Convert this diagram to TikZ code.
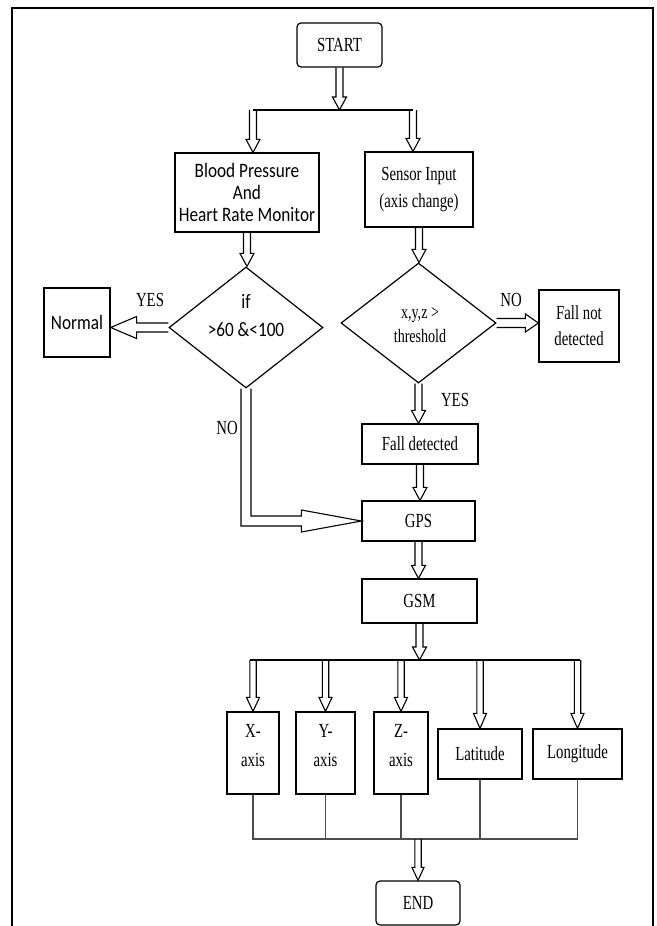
\documentclass[tikz,border=0pt]{standalone}
\usepackage{fontspec}
\setmainfont{Liberation Serif}[FakeStretch=0.74]
\newfontfamily\calfont{Carlito}[FakeStretch=0.84]
\usetikzlibrary{calc,shapes.geometric}
% vertical (downward) hollow arrow: #1 from, #2 to, #3 shaft half width, #4 head half width, #5 head length
\newcommand{\varr}[5]{%
  \draw[arrline] let \p1=#1, \p2=#2 in
   (\x1-#3pt,\y1) -- (\x1-#3pt,\y2+#5pt) -- (\x1-#4pt,\y2+#5pt) -- (\x1,\y2)
   -- (\x1+#4pt,\y2+#5pt) -- (\x1+#3pt,\y2+#5pt) -- (\x1+#3pt,\y1);}
% rightward hollow arrow
\newcommand{\rarr}[5]{%
  \draw[arrline] let \p1=#1, \p2=#2 in
   (\x1,\y1+#3pt) -- (\x2-#5pt,\y1+#3pt) -- (\x2-#5pt,\y1+#4pt) -- (\x2,\y1)
   -- (\x2-#5pt,\y1-#4pt) -- (\x2-#5pt,\y1-#3pt) -- (\x1,\y1-#3pt);}
% leftward hollow arrow
\newcommand{\larr}[5]{%
  \draw[arrline] let \p1=#1, \p2=#2 in
   (\x1,\y1+#3pt) -- (\x2+#5pt,\y1+#3pt) -- (\x2+#5pt,\y1+#4pt) -- (\x2,\y1)
   -- (\x2+#5pt,\y1-#4pt) -- (\x2+#5pt,\y1-#3pt) -- (\x1,\y1-#3pt);}
\begin{document}
\begin{tikzpicture}[x=1pt,y=-1pt,
  box/.style={draw=black, line width=1.2pt, fill=white, inner sep=0pt, align=center},
  rbox/.style={box, rounded corners=4pt},
  dia/.style={draw=black, line width=1.2pt, diamond, inner sep=0pt},
  tnr/.style={inner sep=0pt, align=center, font=\fontsize{20}{27}\selectfont},
  cal/.style={inner sep=0pt, align=center, font=\calfont\fontsize{20.5}{22}\selectfont},
  arrline/.style={draw=black, line width=1.1pt, line join=miter},
  thinline/.style={draw=black!70, line width=1.1pt},
  frameline/.style={draw=black, line width=1.8pt}]
\useasboundingbox (0,0) rectangle (656,926);
\fill[white] (0,0) rectangle (656,926);
% frame
\draw[frameline] (12,926) -- (12,8) -- (653,8) -- (653,926);

% nodes
\node[rbox, minimum width=85pt, minimum height=44pt, tnr] (start) at (339.5,45) {START};
\node[box, minimum width=144pt, minimum height=79pt, cal] (bp) at (247,192.5) {Blood Pressure\\And\\Heart Rate Monitor};
\node[box, minimum width=108pt, minimum height=75pt, tnr] (si) at (419,189.5) {Sensor Input\\(axis change)};
\node[dia, minimum width=154pt, minimum height=121pt] (dl) at (246,327.5) {};
\node[cal, font=\calfont\fontsize{20.5}{28}\selectfont] (dltext) at (246,316) {if\\>60 \&<100};
\node[dia, minimum width=155pt, minimum height=120pt] (dr) at (418.5,323) {};
\node[tnr, font=\fontsize{19}{24}\selectfont] (drtext) at (420,325) {x,y,z >\\threshold};
\node[box, minimum width=66pt, minimum height=69pt, cal] (nm) at (77,322.5) {Normal};
\node[box, minimum width=80pt, minimum height=72pt, tnr, font=\fontsize{20}{26}\selectfont] (fnd) at (579,326) {Fall not\\detected};
\node[box, minimum width=116pt, minimum height=40pt, tnr] (fd) at (420,444) {Fall detected};
\node[box, minimum width=113pt, minimum height=40pt, tnr] (gps) at (418.5,521) {GPS};
\node[box, minimum width=115pt, minimum height=44pt, tnr] (gsm) at (419.5,601) {GSM};
\node[box, minimum width=52pt, minimum height=82pt] (xa) at (253,753) {};
\node[box, minimum width=59pt, minimum height=82pt] (ya) at (325.5,753) {};
\node[box, minimum width=54pt, minimum height=82pt] (za) at (401,753) {};
\node[tnr, font=\fontsize{20}{29}\selectfont] (xat) at (253,745.5) {X-\\axis};
\node[tnr, font=\fontsize{20}{29}\selectfont] (yat) at (325.5,745.5) {Y-\\axis};
\node[tnr, font=\fontsize{20}{29}\selectfont] (zat) at (401,745.5) {Z-\\axis};
\node[box, minimum width=84pt, minimum height=50pt, tnr] (lat) at (480,754) {Latitude};
\node[box, minimum width=89pt, minimum height=50pt, tnr] (lon) at (577.5,754) {Longitude};
\node[rbox, minimum width=84pt, minimum height=44pt, tnr] (endn) at (418,903) {END};

% labels
\node[tnr] (yes1) at (150,300) {YES};
\node[tnr] (no1) at (511,300) {NO};
\node[tnr] (yes2) at (455,400) {YES};
\node[tnr] (no2) at (227,428) {NO};

% split below START
\coordinate (splitL) at (253,110);
\coordinate (splitR) at (413,110);
\varr{(start.south)}{(start.south |- splitL)}{3.5}{7}{13}
\draw[line width=1.3pt] (splitL) -- (splitR);
\varr{(splitL)}{(splitL |- bp.north)}{3.5}{7}{13}
\varr{(splitR)}{(splitR |- si.north)}{3.5}{7}{13}

% to diamonds
\varr{(bp.south)}{(dl.north)}{3.5}{7}{13}
\varr{(si.south)}{(dr.north)}{3.5}{7}{13}

% YES to Normal, NO to Fall not detected
\larr{(dl.west)}{(nm.east)}{4.5}{11}{26}
\rarr{(dr.east)}{(fnd.west)}{4.5}{9}{13}

% YES down to Fall detected
\varr{(dr.south)}{(fd.north)}{3.5}{7}{13}

% NO path from left diamond to GPS
\draw[arrline] let \p1=(dl.south), \p2=(gps.west) in
  (\x1-5pt,\y1) -- (\x1-5pt,\y2-5pt) -- (\x2-60pt,\y2-5pt) -- (\x2-60pt,\y2-11pt) -- (\x2,\y2)
  -- (\x2-60pt,\y2+11pt) -- (\x2-60pt,\y2+5pt) -- (\x1+5pt,\y2+5pt) -- (\x1+5pt,\y1);

% chain
\varr{(fd.south)}{(gps.north)}{3.5}{7}{13}
\varr{(gps.south)}{(gsm.north)}{3.5}{7}{13}
\coordinate (busL) at (250,660);
\coordinate (busR) at (580,660);
\varr{(gsm.south)}{(gsm.south |- busL)}{3.5}{7}{13}
\draw[line width=2.6pt] (busL) -- (busR);

% bus arrows
\varr{(xa.north |- busL)}{(xa.north)}{3.2}{6.5}{14}
\varr{(ya.north |- busL)}{(ya.north)}{3.2}{6.5}{14}
\varr{(za.north |- busL)}{(za.north)}{3.2}{6.5}{14}
\varr{(lat.north |- busL)}{(lat.north)}{3.2}{6.5}{15}
\varr{(lon.north |- busL)}{(lon.north)}{3.2}{6.5}{15}

% merge to END
\coordinate (bot) at (418,839);
\draw[thinline] (xa.south) -- (xa.south |- bot);
\draw[thinline] (ya.south) -- (ya.south |- bot);
\draw[thinline] (za.south) -- (za.south |- bot);
\draw[thinline] (lat.south) -- (lat.south |- bot);
\draw[thinline] (lon.south) -- (lon.south |- bot);
\draw[thinline, line cap=rect] (xa.south |- bot) -- (lon.south |- bot);
\varr{(bot)}{(endn.north)}{3.2}{6}{13}
\end{tikzpicture}
\end{document}
